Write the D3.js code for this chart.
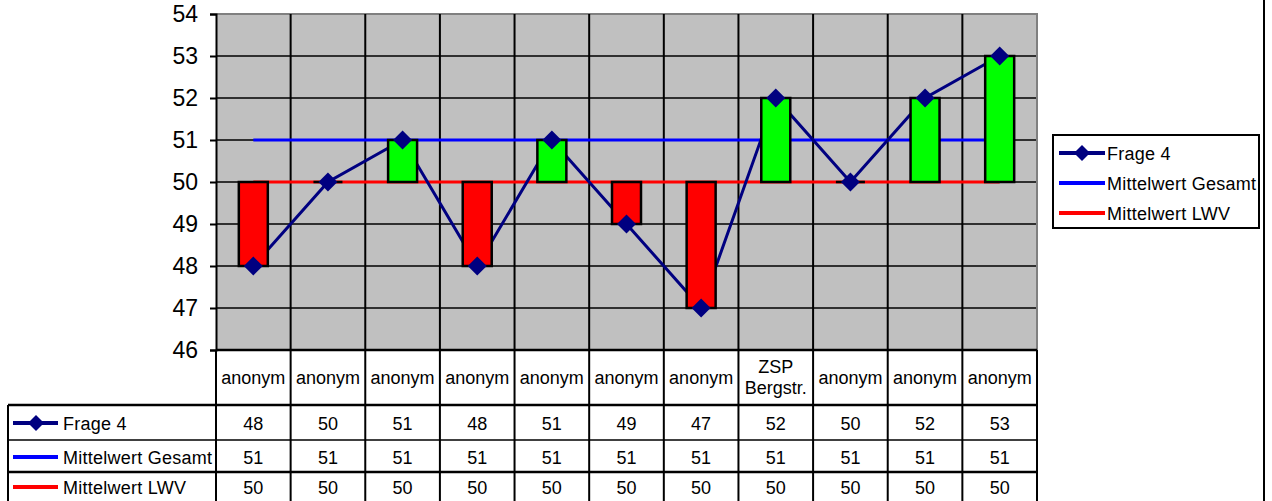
<!DOCTYPE html>
<html>
<head>
<meta charset="utf-8">
<script src="https://cdn.jsdelivr.net/npm/d3@7"></script>
<style>
  html, body { margin: 0; padding: 0; background: #fff; }
  svg { display: block; }
  text { font-family: "Liberation Sans", Arial, sans-serif; fill: #000; }
</style>
</head>
<body>
<svg id="chart" width="1272" height="501"></svg>
<script>
// Data
const categories = ["anonym", "anonym", "anonym", "anonym", "anonym", "anonym", "anonym", "ZSP\nBergstr.", "anonym", "anonym", "anonym"];
const frage4 = [48, 50, 51, 48, 51, 49, 47, 52, 50, 52, 53];
const mittelGesamt = [51, 51, 51, 51, 51, 51, 51, 51, 51, 51, 51];
const mittelLWV = [50, 50, 50, 50, 50, 50, 50, 50, 50, 50, 50];
const yTicks = [46, 47, 48, 49, 50, 51, 52, 53, 54];
const seriesNames = ["Frage 4", "Mittelwert Gesamt", "Mittelwert LWV"];

const colors = { frage: "#000080", gesamt: "#0000FF", lwv: "#FF0000", up: "#00FF00", down: "#FF0000", plotBg: "#C0C0C0" };

const svg = d3.select("#chart");
const plot = { left: 216, right: 1037, top: 14, bottom: 350 };
const table = { labelLeft: 8, catBottom: 405, rows: [405, 440, 472, 504] };
const fs = 18;

const idx = d3.range(categories.length);
const x = d3.scaleBand().domain(idx).range([plot.left, plot.right]).padding(0);
const y = d3.scaleLinear().domain([46, 54]).range([plot.bottom, plot.top]);
const cx = i => x(i) + x.bandwidth() / 2;

// Plot background
svg.append("rect")
  .attr("x", plot.left).attr("y", plot.top)
  .attr("width", plot.right - plot.left).attr("height", plot.bottom - plot.top)
  .attr("fill", colors.plotBg);

// Horizontal gridlines
svg.append("g").selectAll("line").data(yTicks.slice(1, -1)).join("line")
  .attr("x1", plot.left).attr("x2", plot.right)
  .attr("y1", d => y(d)).attr("y2", d => y(d))
  .attr("stroke", "#000").attr("stroke-width", 1.5);

// Plot border: grey top and right
svg.append("path")
  .attr("d", `M${plot.left},${plot.top}H${plot.right}V${plot.bottom}`)
  .attr("fill", "none").attr("stroke", "#808080").attr("stroke-width", 2);

// Vertical category separators running through the plot and the data table
svg.append("g").selectAll("line").data(idx.slice(1)).join("line")
  .attr("x1", d => x(d)).attr("x2", d => x(d))
  .attr("y1", plot.top).attr("y2", 501)
  .attr("stroke", "#000").attr("stroke-width", 2);

// Y axis
const yAxis = d3.axisLeft(y).tickValues(yTicks).tickSize(6).tickPadding(12).tickFormat(d3.format("d"));
const yg = svg.append("g").attr("transform", `translate(${plot.left},0)`).call(yAxis);
yg.select(".domain").attr("stroke", "#000").attr("stroke-width", 2);
yg.selectAll(".tick line").attr("stroke", "#000").attr("stroke-width", 2);
yg.selectAll(".tick text")
  .attr("font-size", 23).attr("font-family", "Liberation Sans, Arial, sans-serif").attr("fill", "#000");

// Reference lines
const line = d3.line().x((d, i) => cx(i)).y(d => y(d));
svg.append("path").datum(mittelGesamt).attr("d", line)
  .attr("fill", "none").attr("stroke", colors.gesamt).attr("stroke-width", 3);
svg.append("path").datum(mittelLWV).attr("d", line)
  .attr("fill", "none").attr("stroke", colors.lwv).attr("stroke-width", 3);

// Frage 4 line
svg.append("path").datum(frage4).attr("d", line)
  .attr("fill", "none").attr("stroke", colors.frage).attr("stroke-width", 3);

// Up/down bars between Mittelwert LWV and Frage 4 (paths, so zero-height bars still show their outline)
const barW = 29;
svg.append("g").selectAll("path").data(idx).join("path")
  .attr("d", i => {
    const x0 = cx(i) - barW / 2, y0 = y(Math.max(frage4[i], mittelLWV[i]));
    const h = Math.abs(y(frage4[i]) - y(mittelLWV[i]));
    return `M${x0},${y0}h${barW}v${h}h${-barW}Z`;
  })
  .attr("fill", i => frage4[i] >= mittelLWV[i] ? colors.up : colors.down)
  .attr("stroke", "#000").attr("stroke-width", 2.5);

// Diamond markers
const diamond = (px, py, r) => `M${px},${py - r}L${px + r},${py}L${px},${py + r}L${px - r},${py}Z`;
svg.append("g").selectAll("path").data(frage4).join("path")
  .attr("d", (d, i) => diamond(cx(i), y(d), 9.5))
  .attr("fill", colors.frage);

// Data table
const tg = svg.append("g");
// Category label row
categories.forEach((c, i) => {
  const lines = c.split("\n");
  const t = tg.append("text").attr("text-anchor", "middle").attr("font-size", fs);
  lines.forEach((ln, k) => {
    t.append("tspan").attr("x", cx(i))
      .attr("y", (plot.bottom + table.catBottom) / 2 + 6 + (k - (lines.length - 1) / 2) * 21)
      .text(ln);
  });
});

// Table rule lines
const rules = [
  { y: plot.bottom, x1: plot.left, w: 2.5 },
  { y: table.rows[0], x1: table.labelLeft, w: 2.5 },
  { y: table.rows[1], x1: table.labelLeft, w: 1.5 },
  { y: table.rows[2], x1: table.labelLeft, w: 2.5 }
];
tg.selectAll("line.rule").data(rules).join("line").attr("class", "rule")
  .attr("x1", d => d.x1).attr("x2", plot.right)
  .attr("y1", d => d.y).attr("y2", d => d.y)
  .attr("stroke", "#000").attr("stroke-width", d => d.w);
// Outer verticals
[[table.labelLeft, table.rows[0]], [plot.left, plot.bottom], [plot.right, plot.bottom]].forEach(([vx, vy]) => {
  tg.append("line").attr("x1", vx).attr("x2", vx).attr("y1", vy).attr("y2", 501)
    .attr("stroke", "#000").attr("stroke-width", 2);
});

// Series rows
const rowSeries = [
  { name: seriesNames[0], values: frage4, color: colors.frage, marker: true },
  { name: seriesNames[1], values: mittelGesamt, color: colors.gesamt, marker: false },
  { name: seriesNames[2], values: mittelLWV, color: colors.lwv, marker: false }
];
const rowMid = [423, 457, 487];
rowSeries.forEach((s, r) => {
  const my = rowMid[r];
  tg.append("line").attr("x1", 13).attr("x2", 58).attr("y1", my).attr("y2", my)
    .attr("stroke", s.color).attr("stroke-width", 4);
  if (s.marker) tg.append("path").attr("d", diamond(36, my, 8)).attr("fill", s.color);
  tg.append("text").attr("x", 63).attr("y", my + 6.5).attr("font-size", fs)
    .attr("letter-spacing", 0.25).text(s.name);
  s.values.forEach((v, i) => {
    tg.append("text").attr("x", cx(i)).attr("y", my + 6.5).attr("text-anchor", "middle")
      .attr("font-size", fs).text(v);
  });
});

// Legend
const lg = svg.append("g");
lg.append("rect").attr("x", 1053).attr("y", 135).attr("width", 206).attr("height", 93)
  .attr("fill", "#fff").attr("stroke", "#000").attr("stroke-width", 2);
const legY = [153, 183, 213];
rowSeries.forEach((s, r) => {
  const ly = legY[r];
  lg.append("line").attr("x1", 1059).attr("x2", 1105).attr("y1", ly).attr("y2", ly)
    .attr("stroke", s.color).attr("stroke-width", 4);
  if (s.marker) lg.append("path").attr("d", diamond(1082, ly, 8)).attr("fill", s.color);
  lg.append("text").attr("x", 1107).attr("y", ly + 6.5).attr("font-size", fs)
    .attr("letter-spacing", 0.25).text(s.name);
});

// Right frame edge
svg.append("line").attr("x1", 1264).attr("x2", 1264).attr("y1", 0).attr("y2", 501)
  .attr("stroke", "#000").attr("stroke-width", 2);
</script>
</body>
</html>
